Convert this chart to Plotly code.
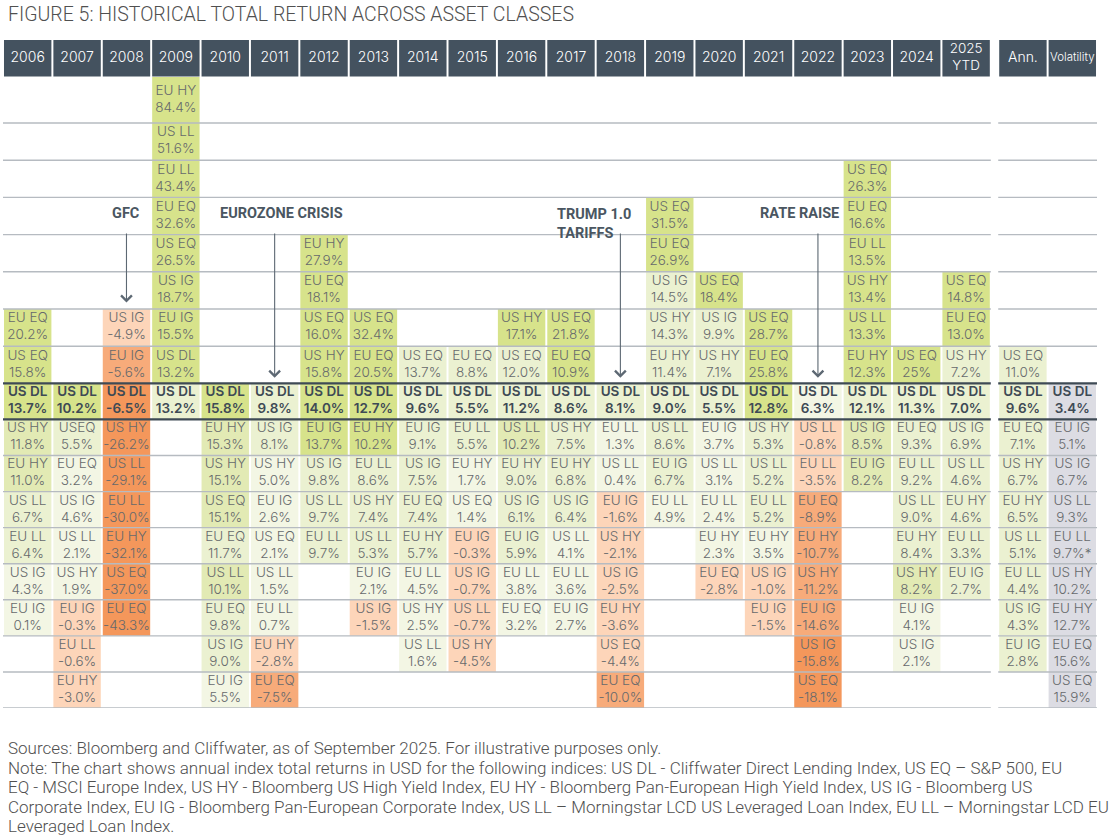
import plotly.graph_objects as go

# ---- data (columns left to right, cells top to bottom) ----
COLUMNS = ["2006", "2007", "2008", "2009", "2010", "2011", "2012", "2013", "2014",
           "2015", "2016", "2017", "2018", "2019", "2020", "2021", "2022", "2023",
           "2024", "2025<br>YTD", "Ann.", "Volatility"]

# row of the first (top) cell in each column; row 8 is the US DL row
START_ROW = [6, 8, 6, 0, 8, 8, 4, 6, 7, 7, 6, 6, 8, 3, 5, 6, 8, 2, 7, 5, 7, 8]

ASSETS = [
    ["EU EQ", "US EQ", "US DL", "US HY", "EU HY", "US LL", "EU LL", "US IG", "EU IG"],
    ["US DL", "USEQ", "EU EQ", "US IG", "US LL", "US HY", "EU IG", "EU LL", "EU HY"],
    ["US IG", "EU IG", "US DL", "US HY", "US LL", "EU LL", "EU HY", "US EQ", "EU EQ"],
    ["EU HY", "US LL", "EU LL", "EU EQ", "US EQ", "US IG", "EU IG", "US DL", "US DL"],
    ["US DL", "EU HY", "US HY", "US EQ", "EU EQ", "US LL", "EU EQ", "US IG", "EU IG"],
    ["US DL", "US IG", "US HY", "EU IG", "US EQ", "US LL", "EU LL", "EU HY", "EU EQ"],
    ["EU HY", "EU EQ", "US EQ", "US HY", "US DL", "EU IG", "US IG", "US LL", "EU LL"],
    ["US EQ", "EU EQ", "US DL", "EU HY", "EU LL", "US HY", "US LL", "EU IG", "US IG"],
    ["US EQ", "US DL", "EU IG", "US IG", "EU EQ", "EU HY", "EU LL", "US HY", "US LL"],
    ["EU EQ", "US DL", "EU LL", "EU HY", "US EQ", "EU IG", "US IG", "US LL", "US HY"],
    ["US HY", "US EQ", "US DL", "US LL", "EU HY", "US IG", "EU IG", "EU LL", "EU EQ"],
    ["US EQ", "EU EQ", "US DL", "US HY", "EU HY", "US IG", "US LL", "EU LL", "EU IG"],
    ["US DL", "EU LL", "US LL", "EU IG", "US HY", "US IG", "EU HY", "US EQ", "EU EQ"],
    ["US EQ", "EU EQ", "US IG", "US HY", "EU HY", "US DL", "US LL", "EU IG", "EU LL"],
    ["US EQ", "US IG", "US HY", "US DL", "EU IG", "US LL", "EU LL", "EU HY", "EU EQ"],
    ["US EQ", "EU EQ", "US DL", "US HY", "US LL", "EU LL", "EU HY", "US IG", "EU IG"],
    ["US DL", "US LL", "EU LL", "EU EQ", "EU HY", "US HY", "EU IG", "US IG", "US EQ"],
    ["US EQ", "EU EQ", "EU LL", "US HY", "US LL", "EU HY", "US DL", "US IG", "EU IG"],
    ["US EQ", "US DL", "EU EQ", "EU LL", "US LL", "EU HY", "US HY", "EU IG", "US IG"],
    ["US EQ", "EU EQ", "US HY", "US DL", "US IG", "US LL", "EU HY", "EU LL", "EU IG"],
    ["US EQ", "US DL", "EU EQ", "US HY", "EU HY", "US LL", "EU LL", "US IG", "EU IG"],
    ["US DL", "EU IG", "US IG", "US LL", "EU LL", "US HY", "EU HY", "EU EQ", "US EQ"],
]

RETURNS = [
    [20.2, 15.8, 13.7, 11.8, 11.0, 6.7, 6.4, 4.3, 0.1],
    [10.2, 5.5, 3.2, 4.6, 2.1, 1.9, -0.3, -0.6, -3.0],
    [-4.9, -5.6, -6.5, -26.2, -29.1, -30.0, -32.1, -37.0, -43.3],
    [84.4, 51.6, 43.4, 32.6, 26.5, 18.7, 15.5, 13.2, 13.2],
    [15.8, 15.3, 15.1, 15.1, 11.7, 10.1, 9.8, 9.0, 5.5],
    [9.8, 8.1, 5.0, 2.6, 2.1, 1.5, 0.7, -2.8, -7.5],
    [27.9, 18.1, 16.0, 15.8, 14.0, 13.7, 9.8, 9.7, 9.7],
    [32.4, 20.5, 12.7, 10.2, 8.6, 7.4, 5.3, 2.1, -1.5],
    [13.7, 9.6, 9.1, 7.5, 7.4, 5.7, 4.5, 2.5, 1.6],
    [8.8, 5.5, 5.5, 1.7, 1.4, -0.3, -0.7, -0.7, -4.5],
    [17.1, 12.0, 11.2, 10.2, 9.0, 6.1, 5.9, 3.8, 3.2],
    [21.8, 10.9, 8.6, 7.5, 6.8, 6.4, 4.1, 3.6, 2.7],
    [8.1, 1.3, 0.4, -1.6, -2.1, -2.5, -3.6, -4.4, -10.0],
    [31.5, 26.9, 14.5, 14.3, 11.4, 9.0, 8.6, 6.7, 4.9],
    [18.4, 9.9, 7.1, 5.5, 3.7, 3.1, 2.4, 2.3, -2.8],
    [28.7, 25.8, 12.8, 5.3, 5.2, 5.2, 3.5, -1.0, -1.5],
    [6.3, -0.8, -3.5, -8.9, -10.7, -11.2, -14.6, -15.8, -18.1],
    [26.3, 16.6, 13.5, 13.4, 13.3, 12.3, 12.1, 8.5, 8.2],
    [25, 11.3, 9.3, 9.2, 9.0, 8.4, 8.2, 4.1, 2.1],
    [14.8, 13.0, 7.2, 7.0, 6.9, 4.6, 4.6, 3.3, 2.7],
    [11.0, 9.6, 7.1, 6.7, 6.5, 5.1, 4.4, 4.3, 2.8],
    [3.4, 5.1, 6.7, 9.3, 9.7, 10.2, 12.7, 15.6, 15.9],
]

# cell shading as printed: G strong green, M mid green, L light green, V very light,
# o light orange, O orange, R deep orange, S grey (volatility)
SHADES = [
    "GGGMMLLVV", "GLVVVVooo", "oORRRRRRR", "GGGGGGGGL", "GMMMLMLLV",
    "LLVVVVVoO", "GGGGGGLLL", "GGGGLLLVo", "LLLLLLVVV", "LLLVVoooo",
    "GLLMLLLVV", "GGLLLLVVV", "LVVoooooO", "GGLLLLLLV", "GLLLVVVVo",
    "GGGLLLVoo", "VooOOOORR", "GGGGGGLMM", "GLLLLLMVV", "GGLLLLLLL",
    "LLLLLLLLL", "SSSSSSSSS",
]

LABEL_OVERRIDES = {("2024", "US EQ"): "25%", ("Volatility", "EU LL"): "9.7%*"}

EVENTS = ["GFC", "EUROZONE CRISIS", "TRUMP 1.0<br>TARIFFS", "RATE RAISE"]
EVENT_COLUMNS = ["2008", "2011", "2018", "2022"]

TITLE = "FIGURE 5: HISTORICAL TOTAL RETURN ACROSS ASSET CLASSES"
FOOTNOTE_LINES = [
    "Sources: Bloomberg and Cliffwater, as of September 2025. For illustrative purposes only.",
    "Note: The chart shows annual index total returns in USD for the following indices: US DL - Cliffwater Direct Lending Index, US EQ \u2013 S&P 500, EU",
    "EQ - MSCI Europe Index, US HY - Bloomberg US High Yield Index, EU HY - Bloomberg Pan-European High Yield Index, US IG - Bloomberg US",
    "Corporate Index, EU IG - Bloomberg Pan-European Corporate Index, US LL \u2013 Morningstar LCD US Leveraged Loan Index, EU LL \u2013 Morningstar LCD EU",
    "Leveraged Loan Index.",
]

# ---- styling ----
PALETTE = {
    "G": "#d7e38b", "M": "#e2eab4", "L": "#ebf1d1", "V": "#f3f6e4",
    "o": "#fdd5b9", "O": "#f7ab7a", "R": "#f4975b", "S": "#dcdce3",
}
HEADER_BG = "#44525f"
TEXT_GREY = "#66696c"
DARK = "#3e4a55"
GRID = "#b6bbc1"
FONT = "Roboto"
CELL_FONT = "Inter"
DL_ROW = 8
N_ROWS = 17

# vertical geometry in page pixels (y axis runs in pixels, top of table = 40)
TABLE_TOP, TABLE_BOTTOM = 40, 708
HEADER_BOTTOM = 76.5
ROW0_TOP, ROW0_BOTTOM = 77, 123
H_UPPER = 37.2
H_LOWER = (TABLE_BOTTOM - (ROW0_BOTTOM + 7 * H_UPPER)) / 9


def row_span(r):
    if r == 0:
        return ROW0_TOP, ROW0_BOTTOM
    if r <= 7:
        top = ROW0_BOTTOM + (r - 1) * H_UPPER
        return top, top + H_UPPER
    top = ROW0_BOTTOM + 7 * H_UPPER + (r - 8) * H_LOWER
    return top, top + H_LOWER


def row_mid(r):
    a, b = row_span(r)
    return (a + b) / 2


col_x = [float(i) for i in range(20)] + [20.15, 21.15]
col_pos = dict(zip(COLUMNS, col_x))
half = 0.48
X_BLOCKS = ((-0.5, 19.5), (19.65, 21.65))

fig = go.Figure()
shapes = []

# header boxes
for cx in col_x:
    shapes.append(dict(type="rect", xref="x", yref="y", layer="below",
                       x0=cx - half, x1=cx + half, y0=TABLE_TOP, y1=HEADER_BOTTOM,
                       fillcolor=HEADER_BG, line_width=0))

name_x, name_y, name_t = [], [], []
val_x, val_y, val_t = [], [], []
dln_x, dln_y, dln_t = [], [], []
dlv_x, dlv_y, dlv_t = [], [], []
for i, col in enumerate(COLUMNS):
    cx = col_x[i]
    for j, (asset, val) in enumerate(zip(ASSETS[i], RETURNS[i])):
        row = START_ROW[i] + j
        top, bot = row_span(row)
        shapes.append(dict(type="rect", xref="x", yref="y", layer="below",
                           x0=cx - half, x1=cx + half, y0=top, y1=bot,
                           fillcolor=PALETTE[SHADES[i][j]], line_width=0))
        label = LABEL_OVERRIDES.get((col, asset), f"{val:.1f}%")
        mid = row_mid(row)
        if row == DL_ROW:
            dln_x.append(cx); dln_y.append(mid - 8.5); dln_t.append(asset)
            dlv_x.append(cx); dlv_y.append(mid + 8.5); dlv_t.append(label)
        else:
            name_x.append(cx); name_y.append(mid - 8.5); name_t.append(asset)
            val_x.append(cx); val_y.append(mid + 8.5); val_t.append(label)

# row separators (thick around the US DL row)
for k in range(N_ROWS):
    yb = row_span(k)[1]
    thick = k in (DL_ROW - 1, DL_ROW)
    for xa, xb in X_BLOCKS:
        shapes.append(dict(type="line", xref="x", yref="y", layer="below",
                           x0=xa, x1=xb, y0=yb, y1=yb,
                           line=dict(color=DARK if thick else GRID,
                                     width=2.2 if thick else 1.4)))

cell_font = dict(family=CELL_FONT, size=13.5, color=TEXT_GREY, weight=300)
bold_font = dict(family=CELL_FONT, size=13.5, color=DARK, weight=600)
for xs, ys, ts, f in ((name_x, name_y, name_t, cell_font), (val_x, val_y, val_t, cell_font),
                      (dln_x, dln_y, dln_t, bold_font), (dlv_x, dlv_y, dlv_t, bold_font)):
    fig.add_trace(go.Scatter(x=xs, y=ys, text=ts, mode="text", hoverinfo="skip",
                             textfont=f))

# header labels
hdr_sizes = [14] * 19 + [13.5, 14, 11.5]
fig.add_trace(go.Scatter(
    x=col_x, y=[(TABLE_TOP + HEADER_BOTTOM) / 2] * len(COLUMNS), text=COLUMNS,
    mode="text", hoverinfo="skip",
    textfont=dict(family=CELL_FONT, size=hdr_sizes, color="white", weight=300)))

annotations = []
# event call-outs with arrows
label_x = {"GFC": (col_pos["2008"], "center"),
           "EUROZONE CRISIS": (3.85, "left"),
           "TRUMP 1.0<br>TARIFFS": (10.68, "left"),
           "RATE RAISE": (14.78, "left")}
label_font = dict(family=FONT, size=14.5, color="#4a5661", weight="bold")
arrow_start = row_mid(3) + 16
for ev, col in zip(EVENTS, EVENT_COLUMNS):
    lx, anchor = label_x[ev]
    multi = "<br>" in ev
    annotations.append(dict(x=lx, y=row_mid(3) - (12 if multi else 3), xref="x", yref="y",
                            text=ev, showarrow=False, xanchor=anchor,
                            yanchor="top" if multi else "middle", align="left",
                            font=label_font))
    cx = col_pos[col]
    tip = row_mid(5) + 12 if ev == "GFC" else row_mid(7) + 13
    annotations.append(dict(x=cx, y=tip, ax=cx, ay=arrow_start,
                            xref="x", yref="y", axref="x", ayref="y", text="",
                            showarrow=True, arrowhead=4, arrowsize=1.9, arrowwidth=1.1,
                            arrowcolor="#5d6873"))

plot_h = TABLE_BOTTOM - TABLE_TOP
annotations.append(dict(x=3 / 1094, y=1 + (TABLE_TOP - 15) / plot_h, xref="paper", yref="paper",
                        text=TITLE, showarrow=False, xanchor="left", yanchor="middle",
                        font=dict(family=FONT, size=19.5, color="#505050", weight=300)))
for k, line in enumerate(FOOTNOTE_LINES):
    yline = 748 + 19.5 * k
    annotations.append(dict(x=3 / 1094, y=-(yline - TABLE_BOTTOM) / plot_h,
                            xref="paper", yref="paper", text=line, showarrow=False,
                            xanchor="left", yanchor="middle", align="left",
                            font=dict(family=FONT, size=17, color="#505050", weight=300)))

fig.update_layout(
    width=1111, height=840,
    margin=dict(l=3, r=14, t=TABLE_TOP, b=840 - TABLE_BOTTOM),
    paper_bgcolor="white", plot_bgcolor="white",
    showlegend=False,
    shapes=shapes, annotations=annotations,
    xaxis=dict(range=[-0.5, 21.65], visible=False, fixedrange=True),
    yaxis=dict(range=[TABLE_BOTTOM, TABLE_TOP], visible=False, fixedrange=True),
)

fig.write_html("out.html", config={"displayModeBar": False},
               post_script="document.body.style.margin='0';")
